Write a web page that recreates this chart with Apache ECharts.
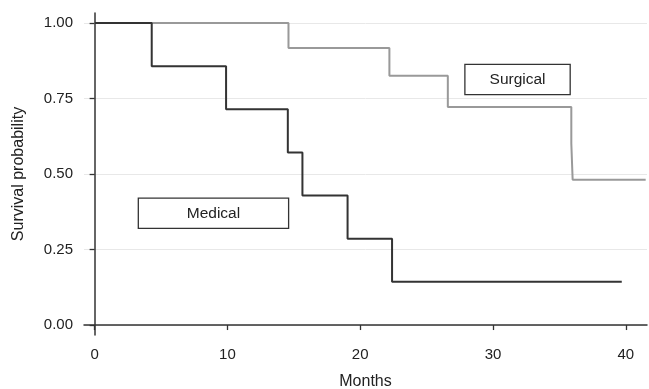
<!DOCTYPE html>
<html>
<head>
<meta charset="utf-8">
<script src="https://cdn.jsdelivr.net/npm/echarts@6/dist/echarts.min.js"></script>
<style>
  html, body { margin: 0; padding: 0; background: #fff; }
  #chart { width: 649px; height: 389px; }
</style>
</head>
<body>
<div id="chart"></div>
<script>
// Kaplan-Meier steps (time in months, survival)
var medicalTimes = [0, 4.3, 9.9, 14.55, 15.65, 19.05, 22.4, 39.7];
var medicalSurv = [1.0, 0.857, 0.714, 0.571, 0.429, 0.286, 0.143, 0.143];
var surgicalTimes = [0, 14.6, 22.2, 26.6, 35.9, 36.0, 41.5];
var surgicalSurv = [1.0, 0.917, 0.825, 0.722, 0.601, 0.481, 0.481];
var xTicks = [0, 10, 20, 30, 40];
var yTicks = [0, 0.25, 0.5, 0.75, 1.0];
var groupLabels = ['Medical', 'Surgical'];
var labelPos = [[8.95, 0.37], [31.85, 0.813]];

function pairs(xs, ys) {
    var list = [];
    for (var i = 0; i < xs.length; i++) {
        list.push([xs[i], ys[i]]);
    }
    return list;
}

var font = 'Liberation Sans, Arial, sans-serif';

// text box drawn as a label with background + border on an invisible symbol
function boxPoint(idx, w) {
    return {
        symbol: 'circle',
        symbolSize: 1,
        silent: true,
        animation: false,
        itemStyle: {color: 'rgba(0,0,0,0)'},
        label: {
            show: true,
            position: 'inside',
            formatter: '{b}',
            color: '#222',
            fontSize: 15.5,
            fontFamily: font,
            backgroundColor: '#fff',
            borderColor: '#333',
            borderWidth: 1.3,
            width: w,
            height: 29,
            lineHeight: 29,
            align: 'center',
            verticalAlign: 'middle',
            padding: 0
        },
        data: [{coord: labelPos[idx], name: groupLabels[idx]}]
    };
}

var chart = echarts.init(document.getElementById('chart'));
chart.setOption({
    animation: false,
    grid: {left: 84, right: 2, top: 13, bottom: 54, outerBoundsMode: 'none', containLabel: false},
    xAxis: {
        type: 'value',
        min: -0.8,
        max: 41.6,
        name: 'Months',
        nameLocation: 'middle',
        nameGap: 39,
        nameTextStyle: {color: '#222', fontSize: 16, fontFamily: font},
        axisLine: {lineStyle: {color: '#333', width: 1.5}},
        axisTick: {show: true, length: 5, customValues: xTicks, lineStyle: {color: '#333', width: 1.3}},
        axisLabel: {customValues: xTicks, color: '#222', fontSize: 15, fontFamily: font, margin: 12},
        splitLine: {show: false}
    },
    yAxis: {
        type: 'value',
        min: -0.033,
        max: 1.033,
        name: 'Survival probability',
        nameLocation: 'middle',
        nameGap: 57,
        nameTextStyle: {color: '#222', fontSize: 16, fontFamily: font},
        axisLine: {show: true, lineStyle: {color: '#333', width: 1.5}},
        axisTick: {show: true, length: 5, customValues: yTicks, lineStyle: {color: '#333', width: 1.3}},
        axisLabel: {
            customValues: yTicks, color: '#222', fontSize: 15, fontFamily: font, margin: 11,
            formatter: function (v) { return v.toFixed(2); }
        },
        splitLine: {show: true, lineStyle: {color: '#e8e8e8', width: 1}}
    },
    series: [
        {
            name: 'Medical',
            type: 'line',
            step: 'end',
            symbol: 'none',
            lineStyle: {color: '#333', width: 2},
            data: pairs(medicalTimes, medicalSurv),
            markPoint: boxPoint(0, 149),
            z: 3
        },
        {
            name: 'Surgical',
            type: 'line',
            step: 'end',
            symbol: 'none',
            lineStyle: {color: '#999', width: 2},
            data: pairs(surgicalTimes, surgicalSurv),
            markPoint: boxPoint(1, 104),
            z: 2
        }
    ]
});
</script>
</body>
</html>
